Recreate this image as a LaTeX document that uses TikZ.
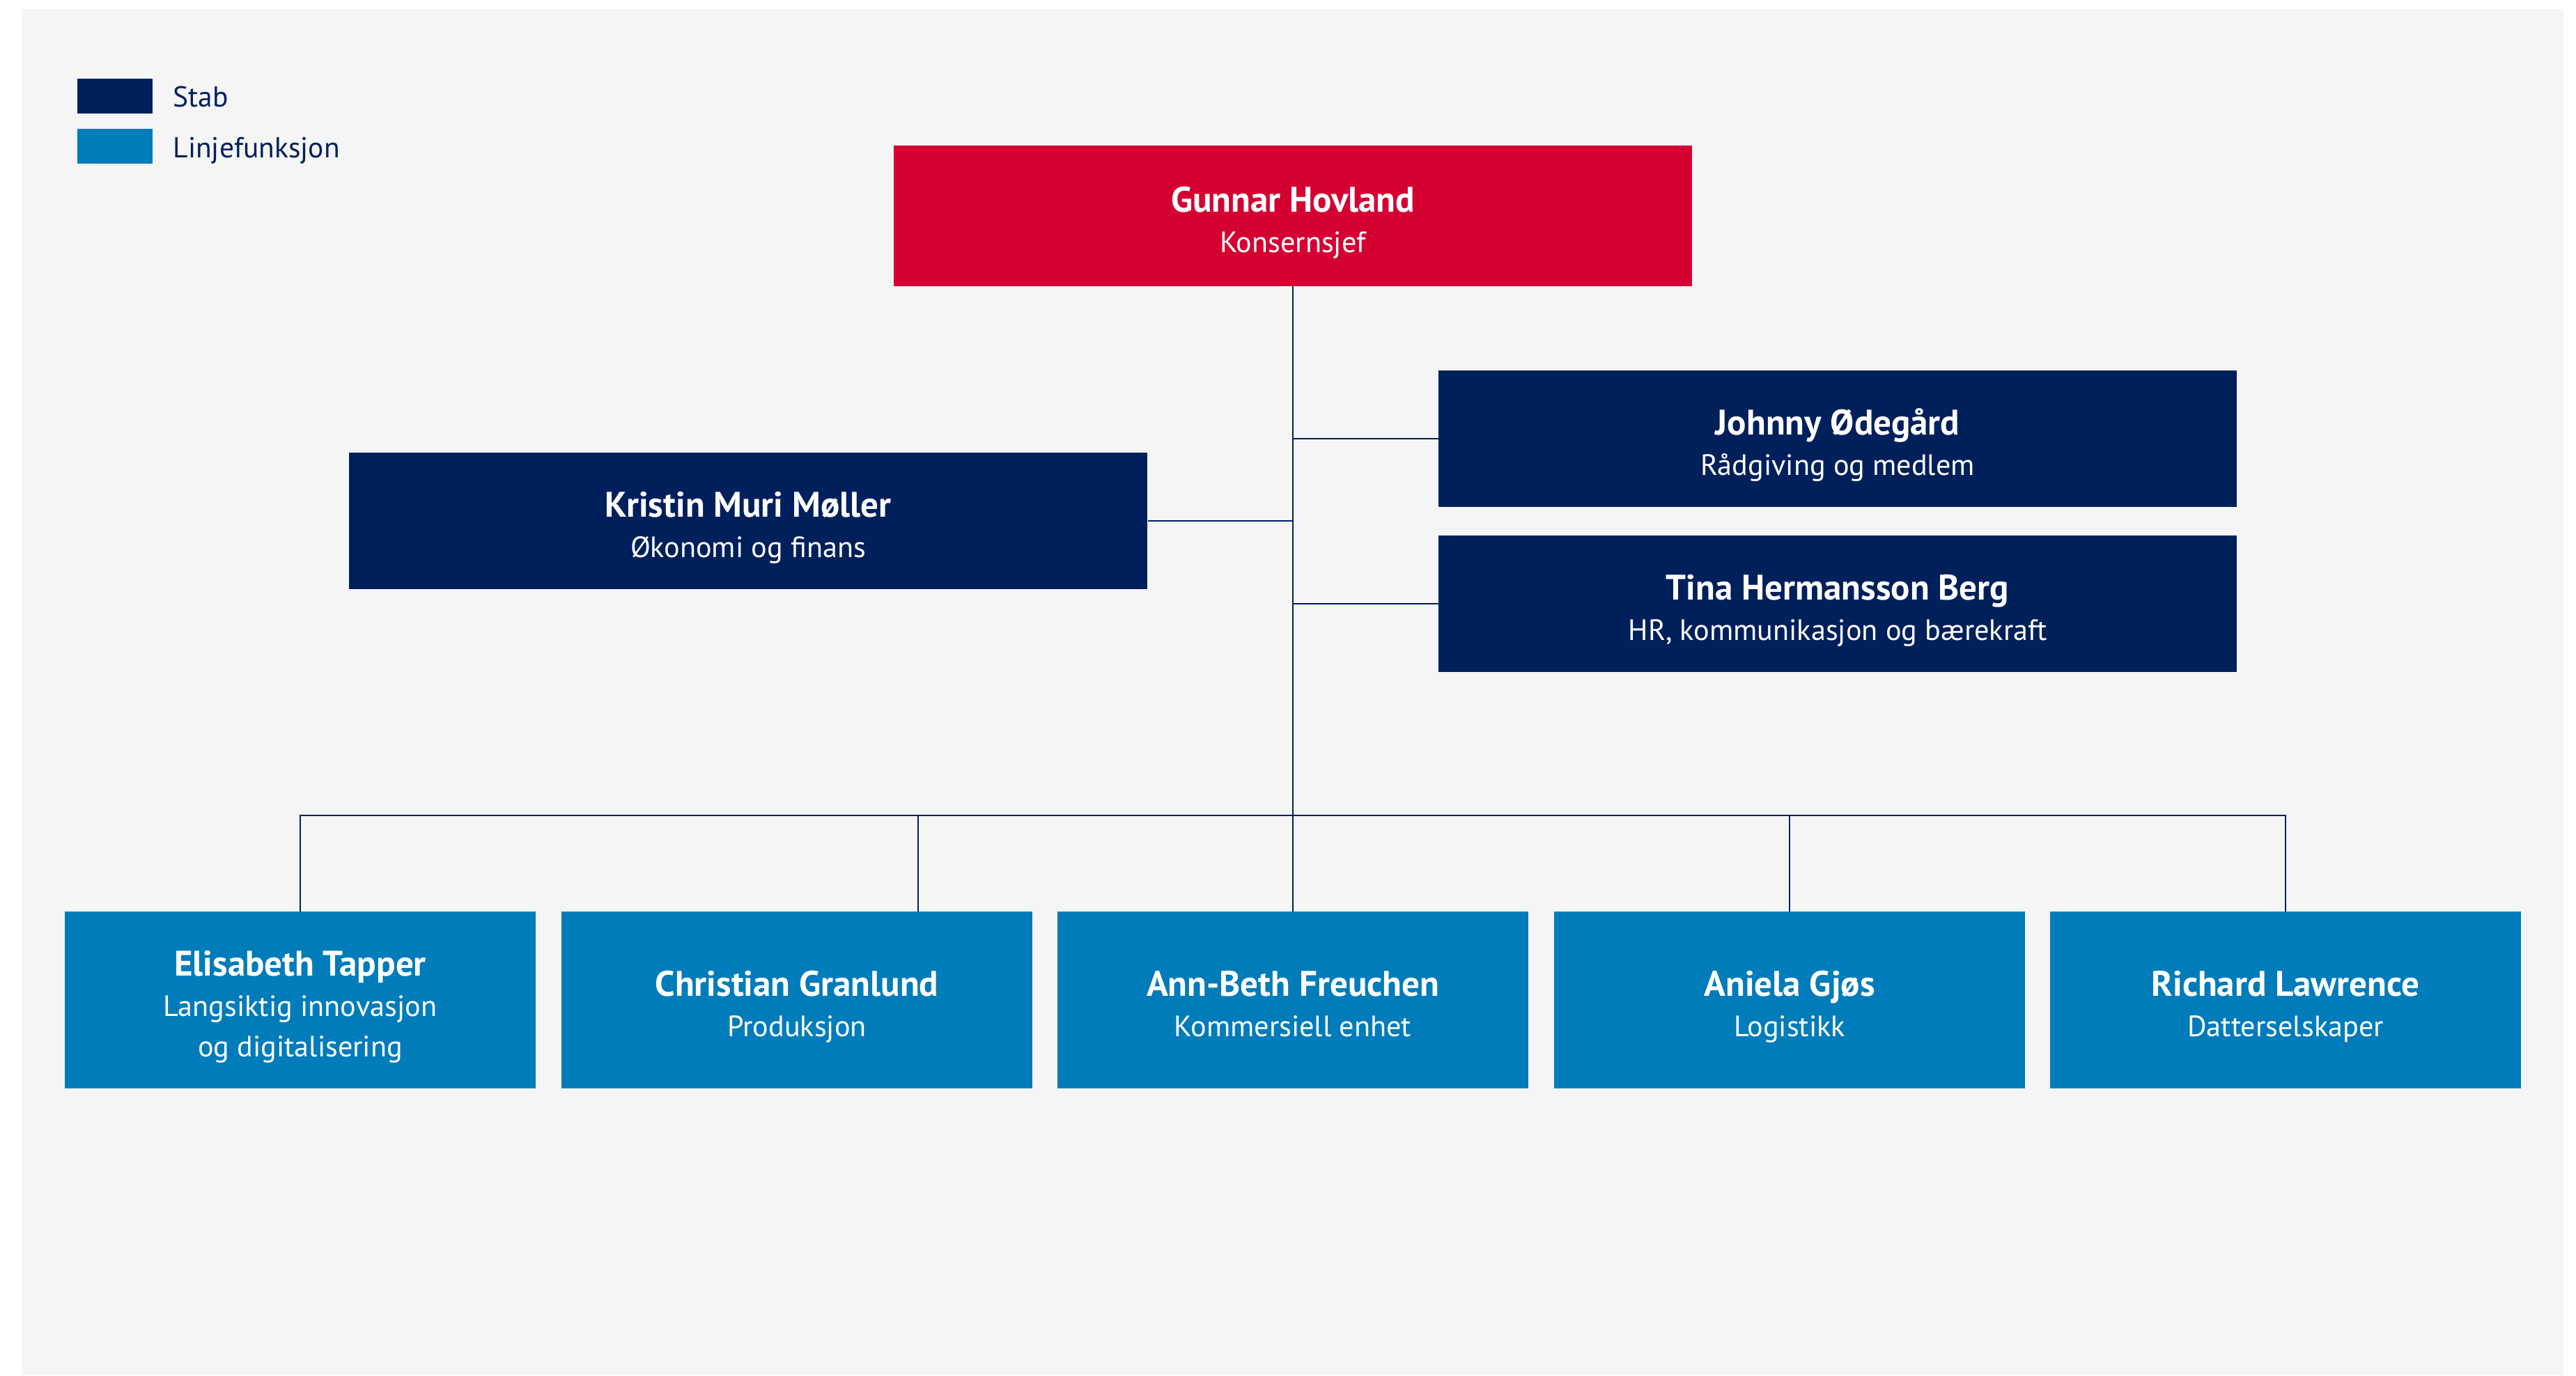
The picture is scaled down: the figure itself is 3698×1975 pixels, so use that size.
\documentclass[tikz,border=0pt]{standalone}
\usepackage{fontspec}
\setmainfont{PT Sans}

\definecolor{konsernred}{RGB}{213,0,50}
\definecolor{stabblue}{RGB}{0,32,91}
\definecolor{linjeblue}{RGB}{0,124,186}
\definecolor{bggray}{RGB}{245,245,245}

\newcommand{\navn}[1]{{\fontsize{14.5}{16.5}\selectfont\bfseries\rule{0 pt}{17 pt}#1}}

\begin{document}
\begin{tikzpicture}[x = 0.01 cm, y = -0.01 cm,
	box/.style = {inner sep = 0 pt, text = white, align = center, font = \fontsize{12}{16.5}\selectfont,
		execute at end node = {\rule[-3.5 pt]{0 pt}{0 pt}}},
	chief/.style = {box, fill = konsernred, minimum width = 11.45 cm, minimum height = 2.01 cm},
	stab/.style = {box, fill = stabblue, minimum width = 11.45 cm, minimum height = 1.96 cm},
	linje/.style = {box, fill = linjeblue, minimum width = 6.75 cm, minimum height = 2.53 cm},
	key/.style = {inner sep = 0 pt, minimum width = 1.07 cm, minimum height = 0.50 cm},
	keytext/.style = {anchor = base west, inner sep = 0 pt, text = stabblue, font = \fontsize{11.8}{15}\selectfont},
	link/.style = {draw = stabblue, line width = 0.4 pt}]

	\useasboundingbox (0, 0) rectangle (3698, 1975);
	\fill [white] (0, 0) rectangle (3698, 1975);
	\fill [bggray] (31, 13) rectangle (3680, 1975);

	\node [key, fill = stabblue] (keystab) at (165, 138) {};
	\node [key, fill = linjeblue] (keylinje) at (165, 210) {};
	\node [keytext] (stabtext) at (248, 153) {Stab};
	\node [keytext] (linjetext) at (248, 226) {Linjefunksjon};

	\node [chief] (gunnar) at (1856, 310) {\navn{Gunnar Hovland}\\Konsernsjef};

	\node [stab] (johnny) at (2638, 630) {\navn{Johnny Ødegård}\\Rådgiving og medlem};
	\node [stab] (kristin) at (1074, 748) {\navn{Kristin Muri Møller}\\Økonomi og finans};
	\node [stab] (tina) at (2638, 867) {\navn{Tina Hermansson Berg}\\HR, kommunikasjon og bærekraft};

	\node [linje] (elisabeth) at (431, 1436) {\navn{Elisabeth Tapper}\\Langsiktig innovasjon\\og digitalisering};
	\node [linje] (christian) at (1144, 1436) {\navn{Christian Granlund}\\Produksjon};
	\node [linje] (ann) at (1856, 1436) {\navn{Ann-Beth Freuchen}\\Kommersiell enhet};
	\node [linje] (aniela) at (2569, 1436) {\navn{Aniela Gjøs}\\Logistikk};
	\node [linje] (richard) at (3281, 1436) {\navn{Richard Lawrence}\\Datterselskaper};

	\coordinate (bus) at (1856, 1171);
	\coordinate (christiandrop) at (1318, 1171);

	\draw [link] (gunnar.south) -- (ann.north);
	\draw [link] (johnny.west) -- (johnny.west -| gunnar.south);
	\draw [link] (kristin.east) -- (kristin.east -| gunnar.south);
	\draw [link] (tina.west) -- (tina.west -| gunnar.south);

	\draw [link] (elisabeth.north) |- (bus) -| (richard.north);
	\draw [link] (christiandrop) -- (christiandrop |- christian.north);
	\draw [link] (aniela.north) -- (aniela.north |- bus);

\end{tikzpicture}
\end{document}
